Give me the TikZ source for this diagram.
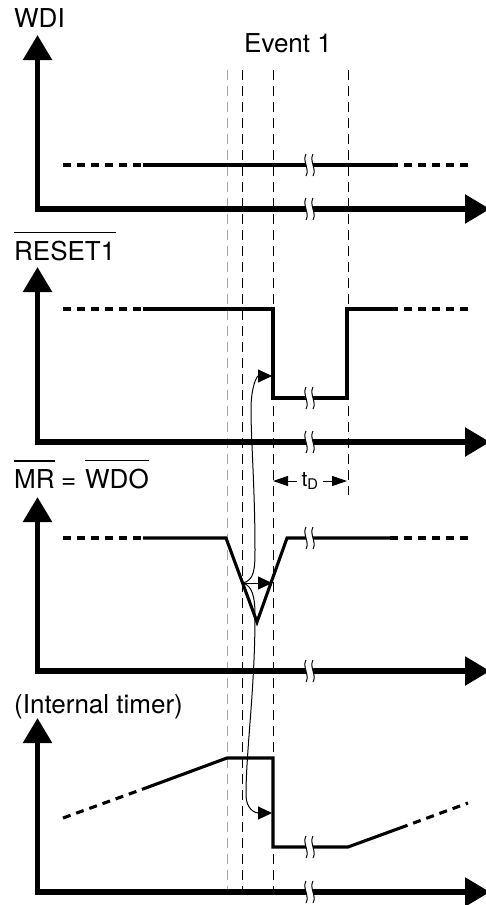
\documentclass[tikz,border=0pt]{standalone}
\usepackage{fontspec}
\setmainfont{TeX Gyre Heros}
\usetikzlibrary{arrows.meta}

% break mark on a line: two wavy strokes with a gap between them
\newcommand{\sigbreak}[2]{%
  \fill[white] (#1-5,#2-11) .. controls (#1-9,#2-4) and (#1-1,#2+4) .. (#1-5,#2+11)
    -- (#1+2,#2+11) .. controls (#1+6,#2+4) and (#1-2,#2-4) .. (#1+2,#2-11) -- cycle;
  \draw[line width=1pt] (#1-5,#2-11) .. controls (#1-9,#2-4) and (#1-1,#2+4) .. (#1-5,#2+11);
  \draw[line width=1pt] (#1+2,#2-11) .. controls (#1-2,#2-4) and (#1+6,#2+4) .. (#1+2,#2+11);
}

\begin{document}
\begin{tikzpicture}[x=1pt,y=-1pt,
  axis/.style={line width=5.5pt,line join=miter,>={Triangle[length=25pt,width=28pt]},<->},
  sig/.style={line width=3.1pt,line join=miter},
  sigdash/.style={sig,dash pattern=on 8pt off 6pt},
  guide/.style={line width=1pt,dash pattern=on 10pt off 6pt},
  link/.style={line width=1pt,>={Triangle[length=14pt,width=13pt]},->},
  dim/.style={line width=1pt,>={Triangle[length=15pt,width=10pt]},->},
  lbl/.style={font=\fontsize{26}{31}\selectfont,inner sep=0pt},
  bar/.style={line width=1.6pt}]
  \useasboundingbox (0,0) rectangle (485,905);

  % Event guides
  \draw[guide,gray!70] (227,70) -- (227,890);
  \foreach \x in {242,273}
    \draw[guide] (\x,70) -- (\x,890);
  \draw[guide] (348,70) -- (348,495);

  % WDI
  \draw[sigdash] (63,165) -- (143,165);
  \draw[sig] (143,165) -- (390,165);
  \draw[sigdash] (390,165) -- (470,165);

  % RESET1
  \draw[sigdash] (63,309) -- (143,309);
  \draw[sig] (143,309) -- (273,309) -- (273,398) -- (347,398) -- (347,309) -- (390,309);
  \draw[sigdash] (390,309) -- (470,309);

  % MR = WDO
  \draw[sigdash] (63,538) -- (143,538);
  \draw[sig] (143,538) -- (226,538) -- (257,622) -- (287,538) -- (390,538);
  \draw[sigdash] (390,538) -- (470,538);

  % Internal timer
  \draw[sigdash] (63,818) -- (143,789);
  \draw[sig] (143,789) -- (227,758) -- (273,758) -- (273,847) -- (348,847) -- (400,828);
  \draw[sigdash] (400,828) -- (468,803);

  % Axes
  \foreach \ytop/\ybot in {35/209, 267/442, 497/671, 718/892}
    \draw[axis] (37.5,\ytop) -- (37.5,\ybot) -- (490,\ybot);

  % Breaks
  \foreach \y in {165,398,538,847,209,442,671,892}
    {\sigbreak{311}{\y}}

  % Cause and effect
  \coordinate (mrpt) at (243,583);
  \coordinate (mredge) at (272,583);
  \coordinate (rsedge) at (272,376);
  \coordinate (vbot) at (257,624);
  \coordinate (tmedge) at (272,813);
  \draw[link] (mrpt) -- (mredge);
  \draw[link] (mrpt) .. controls (254,580) and (255,570) .. (255,550)
    .. controls (255,490) and (251,440) .. (251,410)
    .. controls (251,386) and (257,376) .. (rsedge);
  \draw[link] (mrpt) .. controls (252,586) and (255,596) .. (255,615)
    .. controls (255,690) and (246,750) .. (246,795)
    .. controls (246,809) and (255,813) .. (tmedge);
  \draw[line width=1pt] (mrpt) .. controls (247,596) and (253,612) .. (vbot);

  % tD
  \coordinate (tdl) at (273,481);
  \coordinate (tdr) at (347,481);
  \node[font=\fontsize{21}{25}\selectfont,inner sep=4pt] (td) at (310,481) {t\textsubscript{D}};
  \draw[dim] (td.west |- tdl) -- (tdl);
  \draw[dim] (td.east |- tdr) -- (tdr);

  % Labels
  \node[lbl,anchor=base west] (wdi) at (14,27) {WDI};
  \node[lbl,anchor=base] (event) at (288,52) {Event 1};
  \node[lbl,anchor=base west] (rst) at (14,260) {RESET1};
  \draw[bar] ([yshift=8pt]rst.north west) -- ([yshift=8pt]rst.north east);
  \node[lbl,anchor=base west] (mr) at (14,488) {MR};
  \node[lbl,anchor=base west] (eq) at (61,488) {=};
  \node[lbl,anchor=base west] (wdo) at (85,488) {WDO};
  \draw[bar] ([yshift=8pt]mr.north west) -- ([yshift=8pt]mr.north east);
  \draw[bar] ([yshift=8pt]wdo.north west) -- ([yshift=8pt]wdo.north east);
  \node[lbl,anchor=base west] (timer) at (14,713) {(Internal timer)};

\end{tikzpicture}
\end{document}
